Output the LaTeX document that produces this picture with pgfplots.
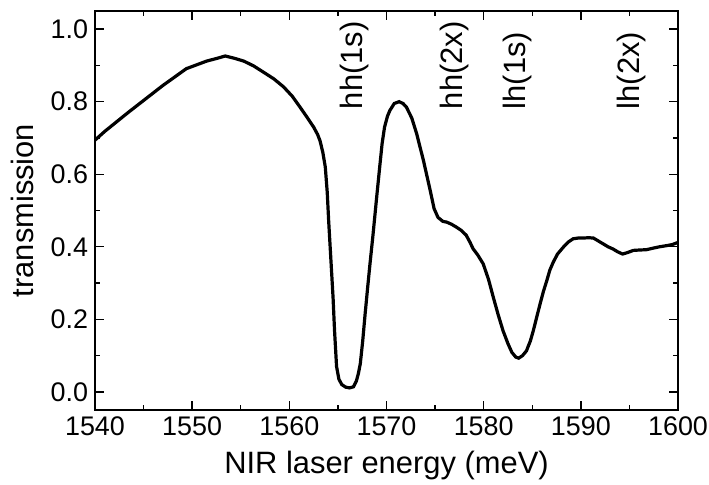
\documentclass[border=0pt]{standalone}
\usepackage{fontspec}
\setmainfont{Liberation Sans}
\usepackage{pgfplots}
\pgfplotsset{compat=1.18}
\begin{document}
\begin{tikzpicture}[font=\fontsize{13.5}{15}\selectfont]
\begin{axis}[
  scale only axis, width=291.5bp, height=199.5bp,
  xmin=1540, xmax=1600, ymin=-0.05, ymax=1.05,
  xtick={1540,1550,1560,1570,1580,1590,1600},
  ytick={0,0.2,0.4,0.6,0.8,1.0},
  minor x tick num=1, minor y tick num=1,
  tick align=inside, major tick length=4.5bp, minor tick length=2.5bp,
  every tick/.style={black, line width=0.7bp},
  axis line style={line width=0.8bp},
  /pgf/number format/assume math mode=true,
  xticklabel style={/pgf/number format/1000 sep={}},
  yticklabel style={/pgf/number format/.cd, fixed, fixed zerofill, precision=1},
  xlabel={NIR laser energy (meV)}, ylabel={transmission},
  every axis x label/.style={at={(axis description cs:0.5,0)}, anchor=base, yshift=-31.5bp, font=\fontsize{15.5}{17}\selectfont},
  every axis y label/.style={at={(axis description cs:0,0.5)}, rotate=90, anchor=center, yshift=36.5bp, font=\fontsize{15.5}{17}\selectfont},
]
\addplot[black, line width=1.6bp] coordinates {
(1540.0,0.694) (1541.0,0.718) (1542.2,0.744) (1543.4,0.770) (1544.6,0.795)
(1545.8,0.820) (1547.0,0.845) (1548.2,0.868) (1549.4,0.891) (1550.5,0.902)
(1551.5,0.912) (1552.5,0.919) (1553.4,0.926) (1554.3,0.920) (1555.3,0.912)
(1556.3,0.899) (1557.3,0.882) (1558.4,0.863) (1559.4,0.841) (1560.3,0.815)
(1561.1,0.785) (1561.8,0.758) (1562.5,0.730) (1562.9,0.710) (1563.15,0.693)
(1563.45,0.660) (1563.7,0.620) (1563.9,0.550) (1564.05,0.470) (1564.2,0.400)
(1564.35,0.330) (1564.5,0.260) (1564.65,0.170) (1564.86,0.070) (1565.1,0.035)
(1565.4,0.020) (1565.8,0.013) (1566.2,0.011) (1566.6,0.014) (1566.9,0.030)
(1567.1,0.050) (1567.3,0.077) (1567.55,0.140) (1567.8,0.215) (1568.05,0.285)
(1568.3,0.353) (1568.6,0.430) (1569.0,0.540) (1569.3,0.620) (1569.55,0.685)
(1569.8,0.730) (1570.1,0.760) (1570.35,0.776) (1570.8,0.795) (1571.3,0.800)
(1571.7,0.795) (1572.05,0.785) (1572.6,0.755) (1573.1,0.712) (1573.8,0.638)
(1574.5,0.555) (1574.9,0.505) (1575.3,0.481) (1575.8,0.470) (1576.2,0.468)
(1576.7,0.462) (1577.2,0.454) (1577.7,0.445) (1578.2,0.432) (1578.6,0.412)
(1578.9,0.395) (1579.4,0.377) (1579.95,0.353) (1580.5,0.310) (1581.0,0.260)
(1581.5,0.212) (1582.0,0.168) (1582.5,0.133) (1582.9,0.109) (1583.3,0.096)
(1583.6,0.093) (1584.0,0.100) (1584.4,0.113) (1584.8,0.140) (1585.1,0.168)
(1585.45,0.205) (1585.8,0.242) (1586.15,0.277) (1586.5,0.307) (1586.8,0.335)
(1587.15,0.357) (1587.6,0.380) (1588.2,0.399) (1588.7,0.413) (1589.2,0.422)
(1589.7,0.424) (1590.2,0.424) (1590.8,0.425) (1591.3,0.424) (1591.8,0.416)
(1592.3,0.408) (1592.8,0.400) (1593.3,0.394) (1593.8,0.386) (1594.3,0.380)
(1594.8,0.384) (1595.4,0.390) (1596.0,0.391) (1596.75,0.392) (1597.4,0.396)
(1598.1,0.400) (1598.8,0.403) (1599.4,0.406) (1600.0,0.412)
};
\node[rotate=90, anchor=west, font=\fontsize{15.5}{17}\selectfont] at (axis cs:1566.7,0.76) {hh(1s)};
\node[rotate=90, anchor=west, font=\fontsize{15.5}{17}\selectfont] at (axis cs:1577.0,0.76) {hh(2x)};
\node[rotate=90, anchor=west, font=\fontsize{15.5}{17}\selectfont] at (axis cs:1583.5,0.76) {lh(1s)};
\node[rotate=90, anchor=west, font=\fontsize{15.5}{17}\selectfont] at (axis cs:1595.2,0.76) {lh(2x)};
\end{axis}
\pgfresetboundingbox
\useasboundingbox ([shift={(-47.5bp,-37bp)}]current axis.south west) rectangle ([shift={(15.5bp,5.5bp)}]current axis.north east);
\end{tikzpicture}
\end{document}
